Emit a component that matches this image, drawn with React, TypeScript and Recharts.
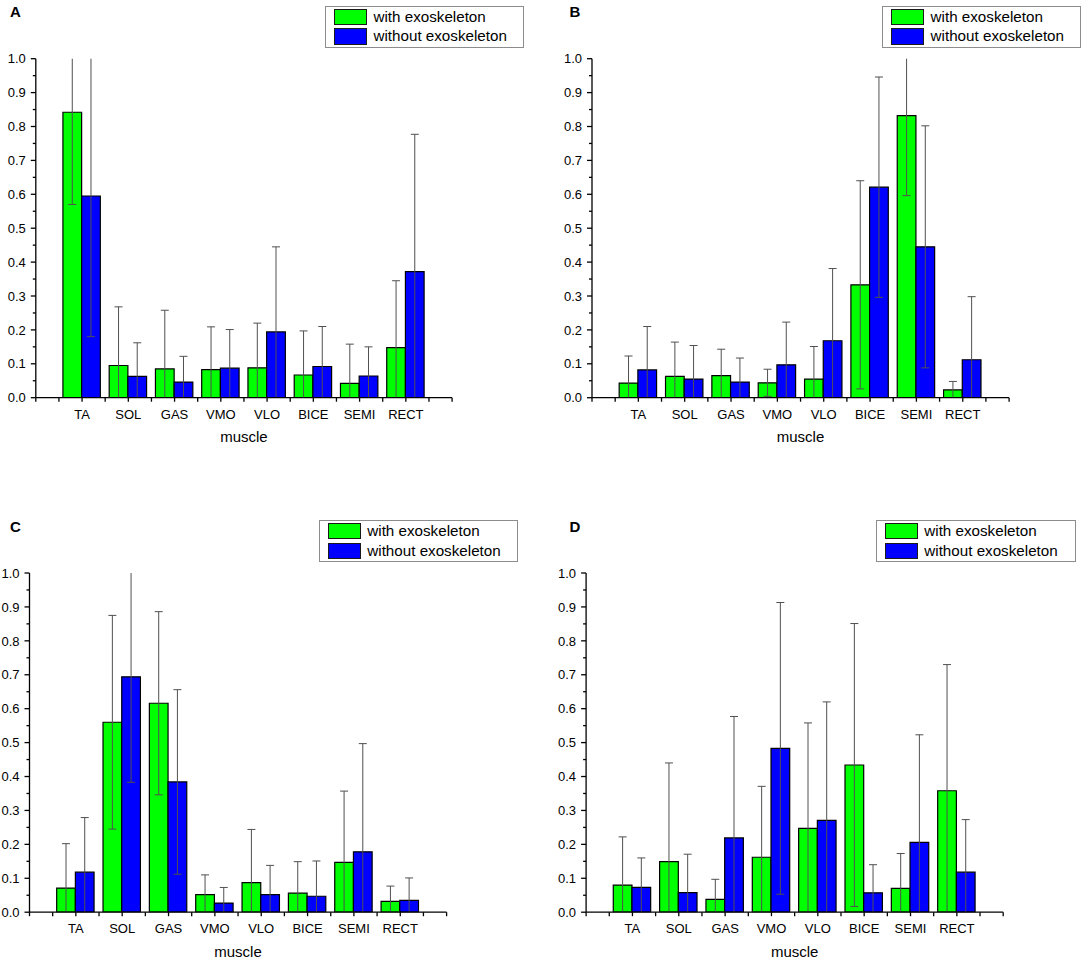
import React from 'react';
import { BarChart, Bar, XAxis, YAxis, ErrorBar, Legend } from 'recharts';

const muscles = ['TA', 'SOL', 'GAS', 'VMO', 'VLO', 'BICE', 'SEMI', 'RECT'];
const yTicks = [0, 0.05, 0.1, 0.15, 0.2, 0.25, 0.3, 0.35, 0.4, 0.45, 0.5, 0.55, 0.6, 0.65, 0.7, 0.75, 0.8, 0.85, 0.9, 0.95, 1.0];
const xTicks = [0, 0.5, 1, 1.5, 2, 2.5, 3, 3.5, 4, 4.5, 5, 5.5, 6, 6.5, 7, 7.5, 8, 8.5, 9];
const seriesNames = ['with exoskeleton', 'without exoskeleton'];

// Panel A
const aWith = [0.842, 0.095, 0.085, 0.083, 0.088, 0.067, 0.042, 0.148];
const aWithErr = [0.272, 0.173, 0.173, 0.126, 0.132, 0.13, 0.116, 0.197];
const aWithout = [0.595, 0.063, 0.046, 0.087, 0.194, 0.092, 0.064, 0.372];
const aWithoutErr = [0.415, 0.099, 0.076, 0.114, 0.251, 0.118, 0.086, 0.405];

// Panel B
const bWith = [0.043, 0.063, 0.065, 0.044, 0.055, 0.333, 0.832, 0.023];
const bWithErr = [0.08, 0.101, 0.078, 0.04, 0.096, 0.307, 0.236, 0.025];
const bWithout = [0.082, 0.055, 0.046, 0.097, 0.168, 0.621, 0.445, 0.112];
const bWithoutErr = [0.128, 0.099, 0.071, 0.126, 0.213, 0.325, 0.357, 0.186];

// Panel C
const cWith = [0.071, 0.56, 0.616, 0.052, 0.087, 0.056, 0.147, 0.032];
const cWithErr = [0.131, 0.315, 0.27, 0.058, 0.157, 0.093, 0.21, 0.045];
const cWithout = [0.118, 0.694, 0.384, 0.027, 0.052, 0.047, 0.178, 0.035];
const cWithoutErr = [0.161, 0.311, 0.272, 0.046, 0.086, 0.104, 0.319, 0.066];

// Panel D
const dWith = [0.08, 0.149, 0.038, 0.162, 0.247, 0.434, 0.07, 0.358];
const dWithErr = [0.142, 0.291, 0.059, 0.209, 0.311, 0.417, 0.103, 0.372];
const dWithout = [0.073, 0.058, 0.219, 0.483, 0.271, 0.057, 0.206, 0.118];
const dWithoutErr = [0.087, 0.113, 0.358, 0.43, 0.349, 0.083, 0.317, 0.155];

const GREEN = '#00ff00';
const BLUE = '#0000ff';
const FONT = '"Liberation Sans", Arial, Helvetica, sans-serif';
const Y_TICK_GAP = 10;

const buildRows = (w: number[], we: number[], wo: number[], woe: number[]) =>
  muscles.map((m, i) => ({ x: i + 1, muscle: m, g: w[i], gErr: we[i], b: wo[i], bErr: woe[i] }));

const YTick = (props: any) => {
  const { x, y, payload } = props;
  const axisX = x + Y_TICK_GAP;
  const v = Number(payload.value);
  const major = Math.round(v * 100) % 10 === 0;
  return (
    <g>
      <line x1={axisX - (major ? 5 : 3)} x2={axisX} y1={y} y2={y} stroke="#000" strokeWidth={1.3} />
      {major && (
        <text x={x} y={y} dy="0.36em" textAnchor="end" fontSize={13} fill="#000" fontFamily={FONT}>
          {v.toFixed(1)}
        </text>
      )}
    </g>
  );
};

const LegendBox = (props: any) => {
  const { payload } = props;
  const items = (payload || []) as any[];
  return (
    <div
      style={{
        width: '100%',
        height: '100%',
        boxSizing: 'border-box',
        border: '1.3px solid #8c8c8c',
        background: '#fff',
        paddingTop: 0.6,
        paddingLeft: 8,
        fontFamily: FONT,
      }}
    >
      {items.map((p, i) => (
        <div key={i} style={{ display: 'flex', alignItems: 'center', height: 19.4 }}>
          <div
            style={{
              width: 33.5,
              height: 16.3,
              boxSizing: 'border-box',
              background: p.color,
              border: '1.2px solid #1a1a1a',
              marginRight: 6.3,
            }}
          />
          <span style={{ fontSize: 15.2, color: '#000', lineHeight: '16px', whiteSpace: 'nowrap' }}>{p.value}</span>
        </div>
      ))}
    </div>
  );
};

type PanelProps = {
  id: string;
  letter: string;
  left: number;
  top: number;
  width: number;
  height: number;
  plotLeft: number;
  plotTop: number;
  plotRight: number;
  plotBottom: number;
  legendX: number;
  legendY: number;
  legendW: number;
  legendH: number;
  letterX: number;
  letterY: number;
  rows: any[];
};

const X_AXIS_H = 30;

const Panel = (p: PanelProps) => {
  const yAxisWidth = p.plotLeft - p.left;
  const margin = {
    top: p.plotTop - p.top,
    right: p.left + p.width - p.plotRight,
    bottom: p.top + p.height - p.plotBottom - X_AXIS_H,
    left: 0,
  };
  const clipId = `plot-clip-${p.id}`;
  return (
    <>
      <svg width={0} height={0} style={{ position: 'absolute', left: 0, top: 0 }}>
        <defs>
          <clipPath id={clipId} clipPathUnits="userSpaceOnUse">
            <rect
              x={p.plotLeft - p.left}
              y={p.plotTop - p.top}
              width={p.plotRight - p.plotLeft}
              height={p.plotBottom - p.plotTop}
            />
          </clipPath>
        </defs>
      </svg>
      <div
        style={{
          position: 'absolute',
          left: p.letterX,
          top: p.letterY,
          fontFamily: FONT,
          fontWeight: 'bold',
          fontSize: 15,
          lineHeight: '15px',
          color: '#000',
        }}
      >
        {p.letter}
      </div>
      <div style={{ position: 'absolute', left: p.left, top: p.top, width: p.width, height: p.height }}>
        <BarChart width={p.width} height={p.height} data={p.rows} margin={margin} barGap={0}>
          <XAxis
            dataKey="x"
            type="number"
            domain={[0, 9]}
            ticks={xTicks}
            interval={0}
            allowDecimals
            tickFormatter={(v: number) => (Number.isInteger(v) && v >= 1 && v <= 8 ? muscles[v - 1] : '')}
            tickSize={4}
            tickMargin={8}
            height={X_AXIS_H}
            axisLine={{ stroke: '#000', strokeWidth: 1.3 }}
            tickLine={{ stroke: '#000', strokeWidth: 1.3 }}
            tick={{ fill: '#000', fontSize: 13, fontFamily: FONT }}
            label={{ value: 'muscle', position: 'bottom', offset: 4, fill: '#000', fontSize: 15, fontFamily: FONT }}
          />
          <YAxis
            type="number"
            domain={[0, 1]}
            allowDataOverflow
            ticks={yTicks}
            interval={0}
            width={yAxisWidth}
            tickSize={0}
            tickMargin={Y_TICK_GAP}
            tickLine={false}
            axisLine={{ stroke: '#000', strokeWidth: 1.3 }}
            tick={<YTick />}
          />
          <Legend
            layout="vertical"
            align="center"
            verticalAlign="middle"
            wrapperStyle={{
              position: 'absolute',
              left: p.legendX - p.left,
              top: p.legendY - p.top,
              width: p.legendW,
              height: p.legendH,
              margin: 0,
              padding: 0,
            }}
            content={<LegendBox />}
          />
          <Bar
            dataKey="g"
            name={seriesNames[0]}
            fill={GREEN}
            stroke="#000"
            strokeWidth={1.2}
            barSize={18.7}
            isAnimationActive={false}
          >
            <ErrorBar
              dataKey="gErr"
              width={4}
              stroke="#505050"
              strokeWidth={1}
              direction="y"
              clipPath={`url(#${clipId})`}
              isAnimationActive={false}
            />
          </Bar>
          <Bar
            dataKey="b"
            name={seriesNames[1]}
            fill={BLUE}
            stroke="#000"
            strokeWidth={1.2}
            barSize={18.7}
            isAnimationActive={false}
          >
            <ErrorBar
              dataKey="bErr"
              width={4}
              stroke="#505050"
              strokeWidth={1}
              direction="y"
              clipPath={`url(#${clipId})`}
              isAnimationActive={false}
            />
          </Bar>
        </BarChart>
      </div>
    </>
  );
};

const rowsA = buildRows(aWith, aWithErr, aWithout, aWithoutErr);
const rowsB = buildRows(bWith, bWithErr, bWithout, bWithoutErr);
const rowsC = buildRows(cWith, cWithErr, cWithout, cWithoutErr);
const rowsD = buildRows(dWith, dWithErr, dWithout, dWithoutErr);

export default function App() {
  return (
    <div style={{ position: 'absolute', left: 0, top: 0, width: 1084, height: 960, background: '#fff', fontFamily: FONT }}>
      <Panel
        id="a" letter="A" letterX={10} letterY={3.5}
        left={0} top={0} width={540} height={470}
        plotLeft={35.8} plotTop={58.7} plotRight={452.1} plotBottom={397.7}
        legendX={324.7} legendY={5.7} legendW={199.7} legendH={42.6}
        rows={rowsA}
      />
      <Panel
        id="b" letter="B" letterX={569.5} letterY={3.5}
        left={540} top={0} width={544} height={470}
        plotLeft={592} plotTop={58.7} plotRight={1009.1} plotBottom={397.7}
        legendX={881.8} legendY={5.7} legendW={199.5} legendH={42.6}
        rows={rowsB}
      />
      <Panel
        id="c" letter="C" letterX={10} letterY={518.5}
        left={0} top={490} width={540} height={470}
        plotLeft={29.5} plotTop={573} plotRight={446.6} plotBottom={912.2}
        legendX={318.5} legendY={520} legendW={199.7} legendH={42.3}
        rows={rowsC}
      />
      <Panel
        id="d" letter="D" letterX={569.5} letterY={518.5}
        left={540} top={490} width={544} height={470}
        plotLeft={586.1} plotTop={573} plotRight={1003.2} plotBottom={912.2}
        legendX={875.5} legendY={520} legendW={200} legendH={42.3}
        rows={rowsD}
      />
    </div>
  );
}
